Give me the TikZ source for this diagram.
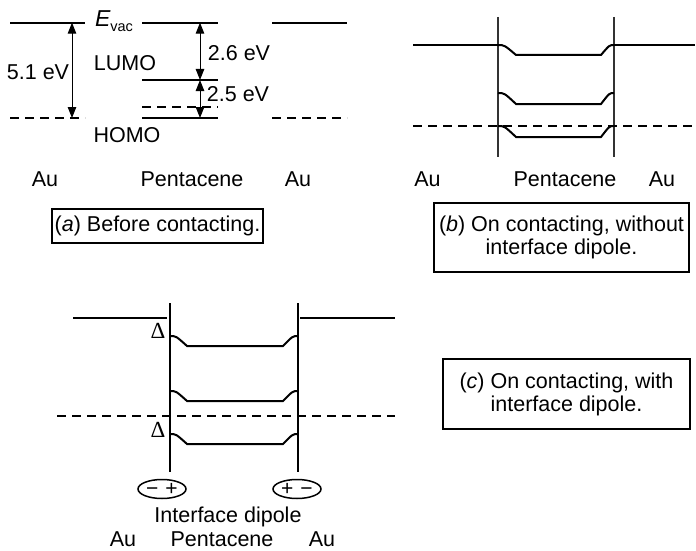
\documentclass[tikz,border=0pt]{standalone}
\usepackage{fontspec}
\setmainfont{Liberation Sans}
\newfontfamily\serifgr{Liberation Serif}
\usetikzlibrary{arrows.meta,shapes.geometric}
\newcommand{\bandwell}[6]{% x1 x2 yedge ybottom dl dr
  \draw[level] (#1,#3) .. controls ({#1+#5*0.35},#3) .. ({#1+#5},#4) -- ({#2-#6},#4) .. controls ({#2-#6*0.35},#3) .. (#2,#3);}
\begin{document}
\begin{tikzpicture}[x=1pt,y=-1pt,
  level/.style={line width=2pt},
  fermi/.style={line width=2pt, dash pattern=on 9pt off 6pt},
  ifaceb/.style={line width=1.1pt, black!80},
  ifacec/.style={line width=1.7pt},
  dim/.style={line width=1pt, {Triangle[length=11pt,width=8.5pt]}-{Triangle[length=11pt,width=8.5pt]}},
  lbl/.style={inner sep=0pt, font=\fontsize{21.5}{23}\selectfont},
  delta/.style={inner sep=0pt, font=\serifgr\fontsize{23}{24}\selectfont},
  caption/.style={draw, line width=1.5pt, inner sep=0pt, align=center, font=\fontsize{21.5}{23}\selectfont},
  dip/.style={draw, ellipse, line width=1.5pt, minimum width=48pt, minimum height=19pt, inner sep=0pt, font=\fontsize{21}{22}\selectfont}]
\useasboundingbox (0,0) rectangle (696,551);

% ---------------- panel (a)
\draw[level] (10,22.7) -- (85,22.7);
\draw[level] (142,22.7) -- (218,22.7);
\draw[level] (272,22.7) -- (347,22.7);
\draw[level] (142,80) -- (218,80);
\draw[level] (142,118) -- (218,118);
\draw[fermi] (10,118) -- (85,118);
\draw[fermi] (142,107) -- (218,107);
\draw[fermi] (272,118) -- (347,118);
\coordinate (a1t) at (72,22.7); \coordinate (a1b) at (72,118);
\coordinate (a2t) at (200,22.7); \coordinate (a2m) at (200,80); \coordinate (a2b) at (200,118);
\draw[dim] (a1t) -- (a1b);
\draw[dim] (a2t) -- (a2m);
\draw[dim] (a2m) -- (a2b);
\node[lbl] (evac) at (114,21) {\fontsize{23}{24}\selectfont\itshape E\upshape\raisebox{-0.45ex}{\fontsize{14.5}{16}\selectfont vac}};
\node[lbl] (w51) at (38,72) {5.1 eV};
\node[lbl] (lumo) at (125,63) {LUMO};
\node[lbl] (homo) at (127,135) {HOMO};
\node[lbl] (e26) at (239,53) {2.6 eV};
\node[lbl] (e25) at (238,94) {2.5 eV};
\node[lbl] (aau1) at (45,179) {Au};
\node[lbl] (apen) at (192,179) {Pentacene};
\node[lbl] (aau2) at (298,179) {Au};
\node[caption, minimum width=211pt, minimum height=34pt] (capa) at (157.5,226) {(\textit{a}) Before contacting.};

% ---------------- panel (b)
\draw[ifaceb] (498,17) -- (498,157);
\draw[ifaceb] (614,17) -- (614,157);
\draw[level] (413,45) -- (498,45);
\draw[level] (614,45) -- (695,45);
\bandwell{498}{614}{45}{55}{18}{13}
\bandwell{498}{614}{93}{104}{18}{13}
\bandwell{498}{614}{126}{137}{18}{13}
\draw[fermi] (413,126) -- (695,126);
\node[lbl] (bau1) at (427.5,179) {Au};
\node[lbl] (bpen) at (565,179) {Pentacene};
\node[lbl] (bau2) at (662,179) {Au};
\node[caption, minimum width=255pt, minimum height=69pt] (capb) at (561.5,237.5) {(\textit{b}) On contacting, without\\interface dipole.};

% ---------------- panel (c)
\draw[ifacec] (170,303) -- (170,472);
\draw[ifacec] (298,303) -- (298,472);
\draw[level] (73,318) -- (167,318);
\draw[level] (300,318) -- (395,318);
\bandwell{170}{298}{336}{346}{17}{15}
\bandwell{170}{298}{391}{401}{17}{15}
\bandwell{170}{298}{434}{444}{17}{15}
\draw[fermi] (57,416) -- (395,416);
\node[delta] (d1) at (158,331) {Δ};
\node[delta] (d2) at (158,430) {Δ};
\node[dip] (dipl) at (162,489) {−\hspace{7pt}+};
\node[dip] (dipr) at (297,489) {+\hspace{7pt}−};
\node[lbl] (idip) at (228,517) {Interface dipole};
\node[lbl] (cau1) at (123,539) {Au};
\node[lbl] (cpen) at (222,539) {Pentacene};
\node[lbl] (cau2) at (322,539) {Au};
\node[caption, minimum width=247pt, minimum height=70pt] (capc) at (566.5,394) {(\textit{c}) On contacting, with\\interface dipole.};
\end{tikzpicture}
\end{document}
